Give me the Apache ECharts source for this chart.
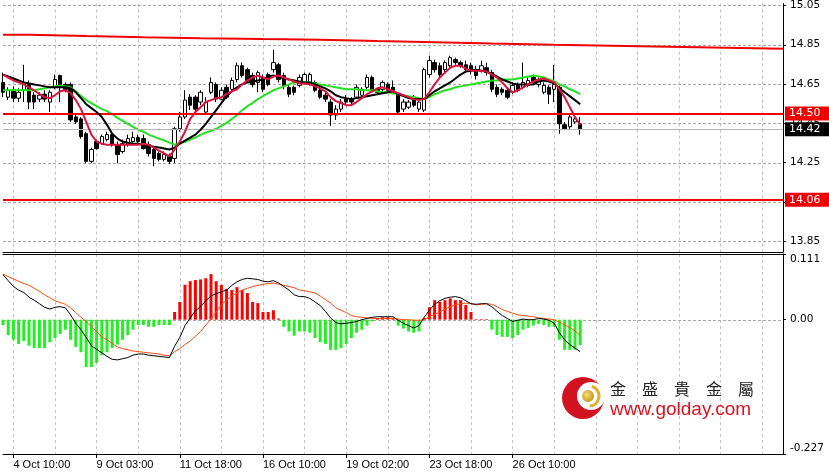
<!DOCTYPE html>
<html><head><meta charset="utf-8">
<script src="https://cdn.jsdelivr.net/npm/echarts@6/dist/echarts.min.js"></script>
<style>html,body{margin:0;padding:0;background:#fff}#c{width:829px;height:473px}</style>
</head><body><div id="c"></div>
<script>
// ---- data ----
const timeLabels = ['4 Oct 10:00','9 Oct 03:00','11 Oct 18:00','16 Oct 10:00','19 Oct 02:00','23 Oct 18:00','26 Oct 10:00'];

const opens = [14.658,14.583,14.618,14.578,14.618,14.648,14.593,14.573,14.598,14.558,
14.633,14.693,14.648,14.648,14.482,14.472,14.397,14.256,14.357,14.346,
14.367,14.392,14.341,14.306,14.341,14.357,14.377,14.372,14.341,14.316,
14.296,14.266,14.281,14.271,14.422,14.482,14.583,14.583,14.558,14.507,
14.608,14.648,14.573,14.633,14.623,14.673,14.743,14.723,14.693,14.658,
14.683,14.698,14.723,14.748,14.693,14.633,14.633,14.643,14.658,14.658,
14.658,14.618,14.593,14.558,14.492,14.522,14.573,14.573,14.583,14.593,
14.633,14.683,14.623,14.623,14.648,14.633,14.593,14.522,14.532,14.583,
14.522,14.517,14.698,14.759,14.743,14.723,14.743,14.774,14.759,14.748,
14.743,14.723,14.718,14.733,14.708,14.633,14.623,14.618,14.608,14.643,
14.633,14.643,14.683,14.648,14.608,14.633,14.623,14.633,14.442,14.432,
14.457,14.447];
const closes = [14.608,14.618,14.578,14.608,14.658,14.558,14.558,14.593,14.573,14.608,
14.673,14.643,14.623,14.467,14.457,14.382,14.256,14.316,14.321,14.382,
14.392,14.341,14.291,14.346,14.372,14.377,14.357,14.321,14.296,14.271,
14.266,14.291,14.256,14.422,14.482,14.568,14.542,14.522,14.608,14.558,
14.658,14.573,14.618,14.583,14.668,14.743,14.693,14.668,14.648,14.708,
14.623,14.648,14.759,14.673,14.643,14.598,14.608,14.683,14.698,14.698,
14.618,14.583,14.573,14.492,14.522,14.558,14.558,14.558,14.633,14.623,
14.683,14.623,14.608,14.658,14.618,14.618,14.507,14.558,14.558,14.542,
14.558,14.723,14.769,14.723,14.698,14.759,14.784,14.759,14.743,14.723,
14.718,14.693,14.743,14.708,14.623,14.598,14.608,14.583,14.643,14.618,
14.658,14.668,14.658,14.673,14.643,14.598,14.648,14.447,14.422,14.482,
14.472,14.422];
const lows = [14.583,14.568,14.558,14.558,14.558,14.522,14.522,14.558,14.558,14.507,
14.623,14.558,14.608,14.457,14.447,14.372,14.246,14.246,14.316,14.341,
14.357,14.331,14.246,14.296,14.331,14.346,14.346,14.316,14.281,14.231,
14.256,14.256,14.241,14.246,14.407,14.472,14.517,14.507,14.542,14.497,
14.598,14.558,14.568,14.573,14.608,14.658,14.683,14.658,14.633,14.608,
14.608,14.638,14.708,14.658,14.623,14.583,14.593,14.633,14.648,14.643,
14.608,14.573,14.558,14.437,14.467,14.507,14.548,14.542,14.573,14.583,
14.623,14.608,14.598,14.608,14.608,14.598,14.497,14.507,14.522,14.532,
14.507,14.507,14.683,14.708,14.683,14.708,14.733,14.748,14.733,14.708,
14.698,14.673,14.708,14.693,14.608,14.583,14.593,14.573,14.598,14.608,
14.623,14.633,14.648,14.633,14.598,14.548,14.558,14.397,14.417,14.422,
14.447,14.392];
const highs = [14.708,14.633,14.638,14.628,14.748,14.668,14.608,14.608,14.618,14.618,
14.698,14.698,14.658,14.658,14.492,14.482,14.407,14.326,14.367,14.392,
14.407,14.407,14.357,14.367,14.392,14.407,14.392,14.392,14.357,14.331,
14.306,14.306,14.296,14.432,14.507,14.618,14.598,14.593,14.618,14.583,
14.683,14.658,14.633,14.648,14.683,14.759,14.759,14.733,14.708,14.718,
14.698,14.708,14.824,14.759,14.708,14.648,14.643,14.698,14.708,14.708,
14.668,14.633,14.608,14.573,14.542,14.573,14.593,14.583,14.648,14.633,
14.698,14.693,14.633,14.668,14.658,14.668,14.608,14.573,14.568,14.593,
14.568,14.733,14.794,14.774,14.759,14.769,14.794,14.784,14.769,14.769,
14.759,14.743,14.769,14.759,14.723,14.648,14.633,14.633,14.658,14.658,
14.759,14.683,14.698,14.683,14.658,14.643,14.748,14.643,14.457,14.492,
14.482,14.482];

const maFast = [14.698,14.683,14.668,14.658,14.648,14.633,14.618,14.598,14.583,14.578,
14.593,14.613,14.618,14.603,14.568,14.522,14.457,14.392,14.357,14.346,
14.341,14.341,14.341,14.341,14.341,14.341,14.341,14.346,14.341,14.326,
14.311,14.296,14.281,14.316,14.357,14.407,14.472,14.507,14.532,14.558,
14.568,14.578,14.583,14.598,14.613,14.623,14.648,14.668,14.683,14.693,
14.683,14.673,14.688,14.693,14.683,14.673,14.663,14.653,14.653,14.648,
14.638,14.628,14.613,14.583,14.563,14.553,14.542,14.542,14.558,14.578,
14.598,14.613,14.628,14.633,14.623,14.613,14.603,14.593,14.583,14.573,
14.568,14.573,14.608,14.648,14.683,14.708,14.733,14.743,14.743,14.728,
14.718,14.718,14.718,14.713,14.698,14.683,14.658,14.628,14.608,14.618,
14.633,14.648,14.663,14.673,14.678,14.668,14.658,14.623,14.583,14.532,
14.482,14.442];
const maMid = [14.698,14.688,14.678,14.668,14.658,14.653,14.648,14.643,14.638,14.633,
14.633,14.633,14.633,14.628,14.608,14.578,14.547,14.527,14.507,14.482,
14.442,14.397,14.372,14.357,14.351,14.346,14.346,14.341,14.336,14.331,
14.326,14.321,14.316,14.326,14.346,14.362,14.377,14.392,14.417,14.447,
14.482,14.517,14.553,14.588,14.613,14.633,14.648,14.658,14.663,14.668,
14.673,14.688,14.693,14.688,14.678,14.673,14.668,14.663,14.658,14.658,
14.648,14.638,14.628,14.613,14.593,14.583,14.578,14.573,14.578,14.583,
14.588,14.593,14.598,14.603,14.608,14.613,14.598,14.588,14.578,14.573,
14.573,14.573,14.593,14.613,14.628,14.643,14.658,14.678,14.698,14.713,
14.718,14.723,14.718,14.713,14.703,14.688,14.673,14.663,14.653,14.648,
14.648,14.648,14.648,14.663,14.668,14.663,14.653,14.628,14.608,14.588,
14.568,14.547];
const maSlow = [14.618,14.618,14.618,14.618,14.618,14.618,14.618,14.623,14.628,14.633,
14.638,14.643,14.638,14.633,14.613,14.588,14.568,14.553,14.537,14.522,
14.512,14.497,14.477,14.462,14.447,14.432,14.417,14.407,14.392,14.382,
14.372,14.362,14.351,14.341,14.346,14.357,14.367,14.377,14.392,14.402,
14.412,14.422,14.437,14.452,14.472,14.492,14.517,14.537,14.553,14.573,
14.588,14.603,14.618,14.628,14.638,14.648,14.658,14.658,14.658,14.658,
14.653,14.648,14.643,14.638,14.633,14.628,14.623,14.623,14.623,14.618,
14.618,14.618,14.613,14.608,14.608,14.603,14.598,14.593,14.588,14.583,
14.578,14.573,14.583,14.598,14.608,14.618,14.623,14.633,14.638,14.643,
14.648,14.653,14.658,14.663,14.668,14.668,14.673,14.673,14.673,14.678,
14.683,14.688,14.693,14.688,14.683,14.673,14.663,14.648,14.638,14.623,
14.613,14.598];

const macdHist = [-0.009,-0.026,-0.034,-0.041,-0.036,-0.044,-0.048,-0.048,-0.048,-0.038,
-0.031,-0.024,-0.017,-0.034,-0.046,-0.055,-0.080,-0.080,-0.073,-0.060,
-0.055,-0.048,-0.042,-0.034,-0.026,-0.017,-0.009,-0.009,-0.012,-0.012,
-0.009,-0.009,-0.009,0.013,0.030,0.059,0.065,0.067,0.068,0.070,
0.077,0.065,0.059,0.052,0.050,0.055,0.050,0.045,0.030,0.028,
0.013,0.013,0.016,0.002,-0.012,-0.020,-0.027,-0.020,-0.020,-0.022,
-0.031,-0.038,-0.041,-0.051,-0.051,-0.048,-0.041,-0.031,-0.022,-0.017,
-0.010,-0.003,0.002,0.004,0.004,0.003,-0.010,-0.015,-0.020,-0.022,
-0.020,0.003,0.021,0.033,0.030,0.033,0.036,0.033,0.033,0.025,
0.013,0.001,0.001,0.001,-0.017,-0.026,-0.029,-0.029,-0.031,-0.026,
-0.017,-0.014,-0.010,-0.007,-0.009,-0.012,-0.012,-0.034,-0.051,-0.051,
-0.051,-0.043];
const macdMain = [0.076,0.066,0.056,0.050,0.046,0.038,0.033,0.027,0.021,0.018,
0.021,0.022,0.020,0.008,-0.006,-0.017,-0.030,-0.044,-0.050,-0.056,
-0.062,-0.067,-0.068,-0.066,-0.064,-0.060,-0.058,-0.058,-0.060,-0.061,
-0.062,-0.063,-0.064,-0.045,-0.030,-0.010,0.003,0.015,0.022,0.032,
0.040,0.044,0.047,0.050,0.058,0.064,0.068,0.070,0.069,0.068,
0.065,0.064,0.066,0.062,0.056,0.050,0.042,0.039,0.039,0.036,
0.030,0.024,0.014,0.003,-0.005,-0.007,-0.006,-0.005,-0.003,0.000,
0.002,0.004,0.005,0.005,0.005,0.005,-0.001,-0.006,-0.010,-0.014,
-0.010,0.004,0.016,0.026,0.032,0.036,0.038,0.039,0.037,0.032,
0.027,0.026,0.027,0.027,0.022,0.014,0.007,0.002,-0.003,-0.001,
0.001,0.000,0.000,0.002,0.001,-0.001,-0.006,-0.022,-0.034,-0.042,
-0.048,-0.054];
const macdSignal = [0.077,0.073,0.069,0.065,0.061,0.058,0.053,0.048,0.042,0.037,
0.032,0.029,0.026,0.020,0.012,0.004,-0.003,-0.012,-0.020,-0.029,
-0.034,-0.040,-0.046,-0.049,-0.051,-0.053,-0.054,-0.055,-0.056,-0.057,
-0.058,-0.060,-0.061,-0.054,-0.049,-0.042,-0.036,-0.028,-0.020,-0.009,
0.001,0.013,0.025,0.033,0.040,0.045,0.050,0.053,0.056,0.058,
0.060,0.061,0.062,0.060,0.058,0.056,0.054,0.050,0.049,0.047,
0.045,0.040,0.034,0.028,0.020,0.016,0.012,0.007,0.005,0.004,
0.003,0.002,0.002,0.002,0.002,0.002,0.001,0.000,0.000,-0.001,
-0.001,0.000,0.005,0.009,0.013,0.018,0.022,0.025,0.027,0.028,
0.027,0.025,0.026,0.027,0.026,0.022,0.017,0.014,0.011,0.008,
0.007,0.006,0.005,0.003,0.002,0.001,0.000,-0.004,-0.009,-0.013,
-0.019,-0.026];

const resistStart = [0,5,16,27,38,50,61,72,83,94,106,117,128,139,150];
const resistValue = [14.901,14.894,14.888,14.883,14.879,14.876,14.869,14.863,14.856,14.850,14.845,14.840,14.835,14.830,14.830];
const levelPrices = [14.50, 14.06];
const lastPrice = 14.42;
const priceTicks = [13.85,14.05,14.25,14.45,14.65,14.85,15.05];
const macdTicks = [-0.227, 0, 0.111];
const slotCount = 151;

// ---- chart ----
const el = document.getElementById('c');
const chart = echarts.init(el, null, {renderer:'canvas'});
const cats = Array.from({length: slotCount}, (_, i) => String(i));
const isLabel = i => i >= 2 && (i - 2) % 16 === 0 && (i - 2) / 16 < timeLabels.length;
const isGrid = i => i >= 2 && (i - 2) % 8 === 0;
const dash = {color:'#c2c2c2', type:[3,3], width:1};
const blk = {color:'#000', width:1};
const xFont = 'Liberation Sans';
const yFont = 'DejaVu Sans';
const tagLabel = (bg) => ({show:true, position:'end', distance:2,
  formatter: p => Number(p.value).toFixed(2), color:'#fff', backgroundColor:bg,
  padding:[2,14,1,4], fontSize:11, fontFamily:yFont});

const P = {left:3, right:46, top:0, height:252};
const M = {left:3, right:46, top:254, height:200};
const pMin = 13.794, pMax = 15.060, mMin = -0.227, mMax = 0.111;

const logo = [
  {type:'circle', shape:{cx:583, cy:398, r:21}, style:{fill:'#d3121f'}, z:10},
  {type:'circle', shape:{cx:591, cy:396, r:14}, style:{fill:'#fff'}, z:11},
  {type:'arc', shape:{cx:589, cy:396, r:10, startAngle:-1.3, endAngle:1.5}, style:{stroke:'#e0b030', lineWidth:3, fill:null}, z:12},
  {type:'circle', shape:{cx:588, cy:396, r:6},
   style:{fill:new echarts.graphic.RadialGradient(0.4,0.4,0.7,[{offset:0,color:'#f6df7a'},{offset:1,color:'#c08a10'}])}, z:12},
  {type:'text', x:610, y:389, style:{text:'金\u3000盛\u3000貴\u3000金\u3000屬', fontSize:16,
    fontFamily:'Noto Sans CJK TC', fill:'#222', verticalAlign:'middle'}, z:12},
  {type:'text', x:610, y:410, style:{text:'www.golday.com', fontSize:19,
    fontFamily:'Liberation Sans', fill:'#e0101e', verticalAlign:'middle'}, z:12}
];

const option = {
  animation:false,
  backgroundColor:'#fff',
  grid:[
    {left:P.left, right:P.right, top:P.top, height:P.height},
    {left:M.left, right:M.right, top:M.top, height:M.height}
  ],
  xAxis:[
    {type:'category', gridIndex:0, data:cats, boundaryGap:false,
     axisLine:{show:true, onZero:false, lineStyle:blk}, axisTick:{show:false}, axisLabel:{show:false},
     splitLine:{show:true, interval:(i)=>isGrid(i), lineStyle:dash}},
    {type:'category', gridIndex:1, data:cats, boundaryGap:false,
     axisLine:{show:true, onZero:false, lineStyle:blk},
     axisTick:{show:true, interval:(i)=>isLabel(i), length:4, lineStyle:blk},
     axisLabel:{show:true, interval:(i)=>isLabel(i), formatter:(v, i)=>timeLabels[(i - 2) / 16] || '',
       align:'left', margin:5, fontSize:11, color:'#000', fontFamily:xFont},
     splitLine:{show:true, interval:(i)=>isGrid(i), lineStyle:dash}},
    {type:'category', gridIndex:1, data:cats, boundaryGap:false, position:'top',
     axisLine:{show:true, onZero:false, lineStyle:blk}, axisTick:{show:false}, axisLabel:{show:false}, splitLine:{show:false}}
  ],
  yAxis:[
    {type:'value', gridIndex:0, position:'right', min:pMin, max:pMax,
     axisLine:{show:true, lineStyle:blk},
     axisTick:{show:true, length:3, lineStyle:blk, customValues:priceTicks},
     axisLabel:{show:true, customValues:priceTicks, formatter:v=>v.toFixed(2), margin:7,
       fontSize:10.5, color:'#000', fontFamily:yFont},
     splitLine:{show:false}},
    {type:'value', gridIndex:1, position:'right', min:mMin, max:mMax,
     axisLine:{show:true, lineStyle:blk},
     axisTick:{show:true, length:3, lineStyle:blk, customValues:macdTicks},
     axisLabel:{show:true, customValues:macdTicks, formatter:v=> v === 0 ? '0.00' : v.toFixed(3), margin:7,
       fontSize:10.5, color:'#000', fontFamily:yFont,
       verticalAlignMaxLabel:'top', verticalAlignMinLabel:'bottom'},
     splitLine:{show:false}}
  ],
  series:[
    {type:'line', name:'resist', xAxisIndex:0, yAxisIndex:0, step:'end', symbol:'none',
     data: resistStart.map((s, k) => [s, resistValue[k]]), lineStyle:{color:'#f00000', width:2}, z:3},
    {type:'candlestick', name:'price', xAxisIndex:0, yAxisIndex:0, barWidth:4, clip:false,
     data: opens.map((o, i) => [o, closes[i], lows[i], highs[i]]),
     itemStyle:{color:'#fff', color0:'#000', borderColor:'#000', borderColor0:'#000', borderWidth:1},
     markLine:{silent:true, symbol:['none','none'], animation:false,
       data:[
         {yAxis:lastPrice, lineStyle:{color:'#b4b4b4', width:1, type:'solid'}, label:tagLabel('#000')},
         {yAxis:levelPrices[0], lineStyle:{color:'#f00000', width:2, type:'solid'}, label:tagLabel('#f00000')},
         {yAxis:levelPrices[1], lineStyle:{color:'#f00000', width:2, type:'solid'}, label:tagLabel('#f00000')}
       ]}, z:2},
    {type:'line', name:'maSlow', xAxisIndex:0, yAxisIndex:0, data:maSlow, symbol:'none', clip:false,
     lineStyle:{color:'#22e022', width:2}, z:4},
    {type:'line', name:'maMid', xAxisIndex:0, yAxisIndex:0, data:maMid, symbol:'none', clip:false,
     lineStyle:{color:'#000', width:2}, z:5},
    {type:'line', name:'maFast', xAxisIndex:0, yAxisIndex:0, data:maFast, symbol:'none', clip:false,
     lineStyle:{color:'#dc143c', width:2}, z:6},
    {type:'bar', name:'hist', xAxisIndex:1, yAxisIndex:1, data:macdHist, barWidth:3, clip:false, z:2,
     itemStyle:{color: p => p.value >= 0 ? '#ff0000' : '#22f022'}},
    {type:'line', name:'signal', xAxisIndex:1, yAxisIndex:1, data:macdSignal, symbol:'none', clip:false,
     lineStyle:{color:'#ff4a10', width:1}, z:4},
    {type:'line', name:'macd', xAxisIndex:1, yAxisIndex:1, data:macdMain, symbol:'none', clip:false,
     lineStyle:{color:'#000', width:1}, z:5}
  ],
  graphic: logo
};
chart.setOption(option);

// horizontal dashed grid lines at the tick values, placed through the chart's own axis scales
const xStart = chart.convertToPixel({xAxisIndex:0}, 0);
const xEnd = chart.convertToPixel({xAxisIndex:0}, slotCount - 1);
const hLine = (y) => ({type:'line', silent:true, z:1,
  shape:{x1:xStart, y1:Math.round(y) + 0.5, x2:xEnd, y2:Math.round(y) + 0.5},
  style:{stroke:'#a8a8a8', lineWidth:1, lineDash:[3,2], fill:null}});
const hLines = priceTicks.map(v => hLine(chart.convertToPixel({yAxisIndex:0}, v)))
  .concat([hLine(chart.convertToPixel({yAxisIndex:1}, macdTicks[1]))]);
chart.setOption({graphic: logo.concat(hLines)});
</script>
</body></html>
